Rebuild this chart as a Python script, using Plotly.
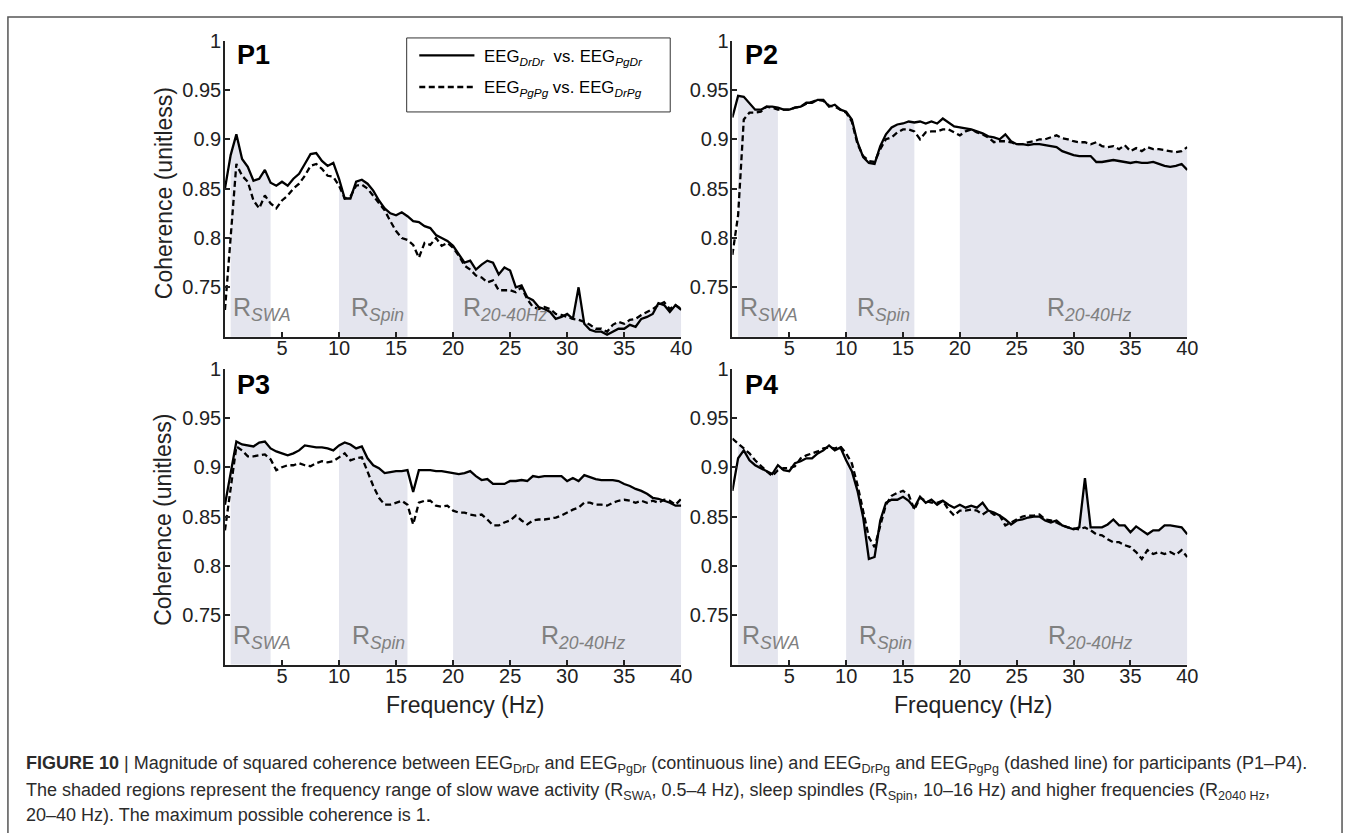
import numpy as np
import plotly.graph_objects as go

W, H = 1357, 833

# ---------------- data ----------------
freq = np.arange(0, 40.01, 0.5)  # Hz

p1_solid = [0.850, 0.884, 0.905, 0.880, 0.872, 0.858, 0.860, 0.869, 0.856, 0.853,
            0.857, 0.853, 0.860, 0.865, 0.875, 0.885, 0.886, 0.878, 0.873, 0.876,
            0.860, 0.840, 0.840, 0.857, 0.859, 0.855, 0.848, 0.838, 0.830, 0.825,
            0.823, 0.826, 0.822, 0.817, 0.816, 0.812, 0.810, 0.803, 0.800, 0.797,
            0.792, 0.783, 0.775, 0.777, 0.768, 0.773, 0.777, 0.775, 0.763, 0.770,
            0.767, 0.750, 0.752, 0.740, 0.737, 0.730, 0.728, 0.725, 0.718, 0.720,
            0.723, 0.718, 0.750, 0.713, 0.707, 0.705, 0.705, 0.702, 0.705, 0.708,
            0.708, 0.712, 0.710, 0.718, 0.720, 0.723, 0.734, 0.732, 0.725, 0.732,
            0.727]
p1_dash = [0.727, 0.797, 0.875, 0.863, 0.857, 0.838, 0.830, 0.843, 0.835, 0.830,
           0.838, 0.843, 0.850, 0.855, 0.863, 0.873, 0.875, 0.870, 0.863, 0.862,
           0.853, 0.840, 0.842, 0.853, 0.854, 0.850, 0.843, 0.835, 0.828, 0.817,
           0.807, 0.800, 0.798, 0.793, 0.780, 0.795, 0.793, 0.800, 0.792, 0.795,
           0.790, 0.782, 0.772, 0.768, 0.762, 0.760, 0.755, 0.757, 0.747, 0.747,
           0.747, 0.745, 0.750, 0.738, 0.730, 0.728, 0.730, 0.728, 0.723, 0.722,
           0.720, 0.718, 0.717, 0.715, 0.712, 0.708, 0.708, 0.705, 0.712, 0.715,
           0.713, 0.717, 0.718, 0.722, 0.725, 0.728, 0.732, 0.735, 0.728, 0.732,
           0.728]
p2_solid = [0.922, 0.944, 0.943, 0.937, 0.930, 0.930, 0.933, 0.933, 0.932, 0.930,
            0.930, 0.932, 0.933, 0.937, 0.937, 0.940, 0.940, 0.933, 0.935, 0.930,
            0.928, 0.920, 0.897, 0.882, 0.876, 0.875, 0.893, 0.905, 0.912, 0.915,
            0.916, 0.918, 0.917, 0.918, 0.916, 0.918, 0.916, 0.921, 0.917, 0.913,
            0.912, 0.911, 0.910, 0.908, 0.906, 0.903, 0.902, 0.900, 0.905, 0.898,
            0.895, 0.895, 0.894, 0.895, 0.895, 0.894, 0.893, 0.892, 0.888, 0.886,
            0.884, 0.883, 0.883, 0.883, 0.877, 0.877, 0.878, 0.879, 0.878, 0.877,
            0.876, 0.877, 0.876, 0.876, 0.877, 0.875, 0.873, 0.872, 0.873, 0.875,
            0.869]
p2_dash = [0.783, 0.823, 0.920, 0.927, 0.927, 0.928, 0.933, 0.932, 0.930, 0.930,
           0.930, 0.932, 0.933, 0.936, 0.938, 0.940, 0.939, 0.934, 0.933, 0.930,
           0.927, 0.918, 0.895, 0.883, 0.878, 0.877, 0.890, 0.900, 0.902, 0.907,
           0.910, 0.910, 0.908, 0.900, 0.907, 0.908, 0.908, 0.910, 0.910, 0.907,
           0.904, 0.908, 0.910, 0.907, 0.905, 0.902, 0.897, 0.898, 0.898, 0.897,
           0.895, 0.895, 0.897, 0.898, 0.900, 0.900, 0.902, 0.904, 0.901, 0.900,
           0.898, 0.897, 0.897, 0.895, 0.897, 0.893, 0.892, 0.893, 0.890, 0.894,
           0.888, 0.891, 0.888, 0.892, 0.890, 0.890, 0.889, 0.888, 0.887, 0.888,
           0.892]
p3_solid = [0.862, 0.892, 0.926, 0.923, 0.922, 0.921, 0.925, 0.926, 0.919, 0.916,
            0.914, 0.912, 0.914, 0.917, 0.922, 0.921, 0.920, 0.920, 0.919, 0.917,
            0.922, 0.925, 0.923, 0.919, 0.921, 0.909, 0.902, 0.899, 0.894, 0.895,
            0.896, 0.896, 0.897, 0.875, 0.897, 0.897, 0.897, 0.896, 0.896, 0.895,
            0.894, 0.893, 0.894, 0.896, 0.891, 0.887, 0.888, 0.883, 0.883, 0.883,
            0.886, 0.886, 0.887, 0.886, 0.891, 0.890, 0.891, 0.891, 0.891, 0.891,
            0.886, 0.889, 0.886, 0.892, 0.890, 0.888, 0.887, 0.887, 0.887, 0.886,
            0.883, 0.881, 0.878, 0.876, 0.873, 0.869, 0.868, 0.866, 0.864, 0.861,
            0.861]
p3_dash = [0.836, 0.879, 0.921, 0.917, 0.911, 0.911, 0.912, 0.913, 0.908, 0.897,
           0.900, 0.902, 0.902, 0.904, 0.902, 0.901, 0.904, 0.906, 0.905, 0.906,
           0.910, 0.914, 0.907, 0.909, 0.910, 0.896, 0.881, 0.869, 0.862, 0.862,
           0.864, 0.866, 0.862, 0.842, 0.864, 0.866, 0.866, 0.861, 0.860, 0.861,
           0.856, 0.854, 0.854, 0.852, 0.851, 0.852, 0.847, 0.841, 0.841, 0.844,
           0.846, 0.851, 0.846, 0.842, 0.846, 0.847, 0.847, 0.848, 0.849, 0.851,
           0.854, 0.857, 0.859, 0.864, 0.864, 0.862, 0.862, 0.861, 0.864, 0.866,
           0.867, 0.866, 0.864, 0.866, 0.864, 0.866, 0.864, 0.867, 0.866, 0.862,
           0.868]
p4_solid = [0.876, 0.909, 0.917, 0.907, 0.902, 0.899, 0.896, 0.893, 0.902, 0.897,
            0.896, 0.904, 0.906, 0.909, 0.909, 0.914, 0.917, 0.922, 0.917, 0.920,
            0.907, 0.896, 0.876, 0.849, 0.807, 0.809, 0.846, 0.864, 0.867, 0.867,
            0.870, 0.866, 0.859, 0.870, 0.864, 0.867, 0.862, 0.866, 0.862, 0.859,
            0.862, 0.859, 0.861, 0.859, 0.864, 0.856, 0.854, 0.851, 0.847, 0.842,
            0.846, 0.847, 0.849, 0.850, 0.850, 0.846, 0.844, 0.846, 0.841, 0.839,
            0.837, 0.839, 0.889, 0.839, 0.839, 0.839, 0.842, 0.847, 0.841, 0.841,
            0.834, 0.840, 0.836, 0.832, 0.836, 0.836, 0.841, 0.841, 0.840, 0.839,
            0.832]
p4_dash = [0.929, 0.924, 0.919, 0.914, 0.907, 0.901, 0.896, 0.891, 0.897, 0.899,
           0.899, 0.901, 0.909, 0.912, 0.914, 0.916, 0.919, 0.920, 0.919, 0.921,
           0.914, 0.904, 0.882, 0.856, 0.829, 0.819, 0.842, 0.862, 0.871, 0.874,
           0.876, 0.872, 0.857, 0.869, 0.866, 0.864, 0.864, 0.866, 0.857, 0.851,
           0.856, 0.856, 0.857, 0.856, 0.852, 0.856, 0.852, 0.851, 0.841, 0.844,
           0.847, 0.850, 0.851, 0.851, 0.852, 0.847, 0.846, 0.844, 0.841, 0.839,
           0.838, 0.837, 0.839, 0.836, 0.832, 0.831, 0.827, 0.824, 0.824, 0.821,
           0.819, 0.814, 0.807, 0.816, 0.812, 0.814, 0.812, 0.814, 0.811, 0.816,
           0.809]

panels = ["P1", "P2", "P3", "P4"]
solid_series = [p1_solid, p2_solid, p3_solid, p4_solid]
dash_series = [p1_dash, p2_dash, p3_dash, p4_dash]

bands = [(0.5, 4.0), (10.0, 16.0), (20.0, 40.0)]
band_labels = ["R<sub><i>SWA</i></sub>", "R<sub><i>Spin</i></sub>", "R<sub><i>20-40Hz</i></sub>"]
# x position (Hz) of each band label, per panel
band_label_x = [[0.57, 10.86, 20.7], [0.51, 10.8, 27.45], [0.57, 10.95, 27.5], [0.63, 10.97, 27.6]]

x_ticks = [5, 10, 15, 20, 25, 30, 35, 40]
y_ticks = [0.75, 0.8, 0.85, 0.9, 0.95, 1.0]
y_ticktext = ["0.75", "0.8", "0.85", "0.9", "0.95", "1"]

legend_names = ["EEG<sub><i>DrDr</i></sub>  vs. EEG<sub><i>PgDr</i></sub>",
                "EEG<sub><i>PgPg</i></sub> vs. EEG<sub><i>DrPg</i></sub>"]

# ---------------- styling ----------------
FONT = "Liberation Sans, Arial, Helvetica, sans-serif"
INK = "#222222"
SHADE = "#e4e5ee"
LABEL_GRAY = "#808080"
DASH = "6px,3.5px"
LW = 2.3


def px(x):
    return x / W


def py(y):
    return 1 - y / H


# axis domains in pixels
x_dom = [(226.8, 686.8), (738.4, 1197.0), (226.8, 686.8), (738.4, 1197.0)]
y_dom = [(30.0, 330.0), (30.0, 330.0), (362.3, 662.3), (362.3, 662.3)]

fig = go.Figure()
freq_arr = np.asarray(freq)

for i in range(4):
    xa = "x" if i == 0 else f"x{i + 1}"
    ya = "y" if i == 0 else f"y{i + 1}"
    s = np.asarray(solid_series[i])
    d = np.asarray(dash_series[i])
    top = np.maximum(s, d)
    for (lo, hi) in bands:
        m = (freq_arr >= lo - 1e-9) & (freq_arr <= hi + 1e-9)
        fig.add_trace(go.Scatter(x=freq_arr[m], y=top[m], mode="lines", fill="tozeroy",
                                 fillcolor=SHADE, line=dict(width=0, color=SHADE),
                                 hoverinfo="skip", showlegend=False, xaxis=xa, yaxis=ya))
    fig.add_trace(go.Scatter(x=freq_arr, y=d, mode="lines", name=legend_names[1],
                             line=dict(color="black", width=LW, dash=DASH),
                             showlegend=False, xaxis=xa, yaxis=ya))
    fig.add_trace(go.Scatter(x=freq_arr, y=s, mode="lines", name=legend_names[0],
                             line=dict(color="black", width=LW),
                             showlegend=False, xaxis=xa, yaxis=ya))

layout = dict(width=W, height=H, margin=dict(l=0, r=0, t=0, b=0),
              paper_bgcolor="white", plot_bgcolor="rgba(0,0,0,0)",
              font=dict(family=FONT, color=INK), showlegend=False)

for i in range(4):
    xk = "xaxis" if i == 0 else f"xaxis{i + 1}"
    yk = "yaxis" if i == 0 else f"yaxis{i + 1}"
    xa = "x" if i == 0 else f"x{i + 1}"
    ya = "y" if i == 0 else f"y{i + 1}"
    layout[xk] = dict(domain=[px(x_dom[i][0]), px(x_dom[i][1])], anchor=ya,
                      range=[0, 40], tickvals=x_ticks, ticks="inside", ticklen=5,
                      tickwidth=1.5, tickcolor=INK, showline=True, linecolor=INK,
                      linewidth=1.5, showgrid=False, zeroline=False, ticklabelstandoff=-7,
                      tickfont=dict(size=20, color=INK, family=FONT), fixedrange=True)
    layout[yk] = dict(domain=[py(y_dom[i][1]), py(y_dom[i][0])], anchor=xa,
                      range=[0.7, 1.0], tickvals=y_ticks, ticktext=y_ticktext,
                      ticks="inside", ticklen=5, tickwidth=1.5, tickcolor=INK,
                      showline=True, linecolor=INK, linewidth=1.5, showgrid=False,
                      zeroline=False, ticklabelstandoff=-2,
                      tickfont=dict(size=20, color=INK, family=FONT),
                      fixedrange=True)

fig.update_layout(**layout)

shapes = []
annotations = []

# outer frame
shapes.append(dict(type="rect", xref="paper", yref="paper", x0=px(8), x1=px(1353),
                   y0=py(845), y1=py(6), line=dict(color="#555555", width=1.5),
                   fillcolor="rgba(0,0,0,0)", layer="below"))

# legend box (drawn by hand)
shapes.append(dict(type="rect", xref="paper", yref="paper", x0=px(410), x1=px(675.7),
                   y0=py(102.3), y1=py(27.3), line=dict(color="#333333", width=1),
                   fillcolor="white", layer="above"))
shapes.append(dict(type="line", xref="paper", yref="paper", x0=px(422.7), x1=px(478.3),
                   y0=py(45), y1=py(45), line=dict(color="black", width=LW)))
shapes.append(dict(type="line", xref="paper", yref="paper", x0=px(422.7), x1=px(478.3),
                   y0=py(77), y1=py(77), line=dict(color="black", width=LW, dash=DASH)))
for name, yc in zip(legend_names, [47, 79]):
    annotations.append(dict(text=name, xref="paper", yref="paper", x=px(486), y=py(yc),
                            xanchor="left", yanchor="middle", showarrow=False,
                            font=dict(size=16.8, color="black", family=FONT)))

# panel labels
p_pos = [(239.3, 45), (750.7, 45), (239.3, 379), (750.7, 379)]
for name, (x, y) in zip(panels, p_pos):
    annotations.append(dict(text=f"<b>{name}</b>", xref="paper", yref="paper", x=px(x - 2),
                            y=py(y), xanchor="left", yanchor="middle", showarrow=False,
                            font=dict(size=27, color="black", family=FONT)))

# band labels
for i in range(4):
    xa = "x" if i == 0 else f"x{i + 1}"
    ya = "y" if i == 0 else f"y{i + 1}"
    for lbl, xv in zip(band_labels, band_label_x[i]):
        annotations.append(dict(text=lbl, xref=xa, yref=ya, x=xv, y=0.728,
                                xanchor="left", yanchor="middle", showarrow=False,
                                font=dict(size=25, color=LABEL_GRAY, family=FONT)))

# axis titles
for yc in [185, 516]:
    annotations.append(dict(text="Coherence (unitless)", xref="paper", yref="paper",
                            x=px(165), y=py(yc), xanchor="center", yanchor="middle",
                            textangle=-90, showarrow=False,
                            font=dict(size=23, color=INK, family=FONT)))
for xc in [469, 980.5]:
    annotations.append(dict(text="Frequency (Hz)", xref="paper", yref="paper",
                            x=px(xc), y=py(703), xanchor="center", yanchor="middle",
                            showarrow=False, font=dict(size=23, color=INK, family=FONT)))

# caption
caption_lines = [
    "<b>FIGURE 10</b> | Magnitude of squared coherence between EEG<sub>DrDr</sub> and "
    "EEG<sub>PgDr</sub> (continuous line) and EEG<sub>DrPg</sub> and EEG<sub>PgPg</sub> "
    "(dashed line) for participants (P1–P4).",
    "The shaded regions represent the frequency range of slow wave activity "
    "(R<sub>SWA</sub>, 0.5–4 Hz), sleep spindles (R<sub>Spin</sub>, 10–16 Hz) and higher "
    "frequencies (R<sub>2040 Hz</sub>,",
    "20–40 Hz). The maximum possible coherence is 1.",
]
for line, yc in zip(caption_lines, [764, 790.7, 815]):
    annotations.append(dict(text=line, xref="paper", yref="paper", x=px(24), y=py(yc),
                            xanchor="left", yanchor="middle", showarrow=False,
                            font=dict(size=18, color="#2b2b2b", family=FONT)))

fig.update_layout(shapes=shapes, annotations=annotations)
fig.write_html("out.html")
